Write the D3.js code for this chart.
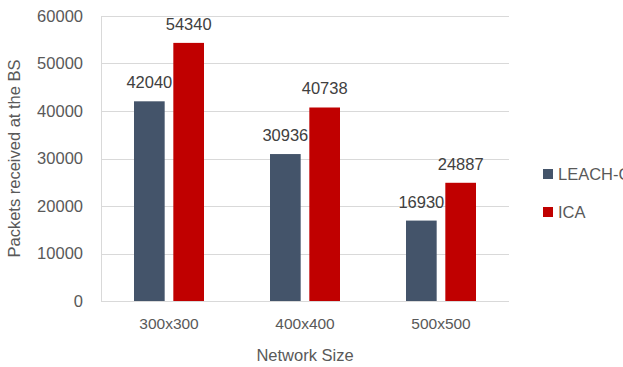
<!DOCTYPE html>
<html>
<head>
<meta charset="utf-8">
<script src="https://cdn.jsdelivr.net/npm/d3@7/dist/d3.min.js"></script>
<style>
  html, body { margin: 0; padding: 0; background: #fff; }
  svg { display: block; font-family: "Liberation Sans", Arial, sans-serif; }
  .tick text { fill: #595959; }
</style>
</head>
<body>
<div id="chart"></div>
<script>
const categories = ["300x300", "400x400", "500x500"];
const seriesNames = ["LEACH-C", "ICA"];
const leachValues = [42040, 30936, 16930];
const icaValues = [54340, 40738, 24887];
const yTicks = [0, 10000, 20000, 30000, 40000, 50000, 60000];
const colors = ["#44546A", "#C00000"];

const width = 623, height = 367;
const margin = { top: 16, right: 114, bottom: 66, left: 101 };

const svg = d3.select("#chart").append("svg")
  .attr("width", width)
  .attr("height", height);

const x = d3.scaleBand()
  .domain(categories)
  .range([margin.left, width - margin.right])
  .paddingInner(0)
  .paddingOuter(0);

const x1 = d3.scaleBand()
  .domain(seriesNames)
  .range([33, 103])
  .paddingInner(0.22);

const y = d3.scaleLinear()
  .domain([0, 60000])
  .range([height - margin.bottom, margin.top]);

// gridlines
svg.append("g")
  .selectAll("line")
  .data(yTicks)
  .join("line")
  .attr("x1", margin.left)
  .attr("x2", width - margin.right)
  .attr("y1", (d) => Math.round(y(d)) + 0.5)
  .attr("y2", (d) => Math.round(y(d)) + 0.5)
  .attr("stroke", "#d9d9d9")
  .attr("stroke-width", 1);

// left frame line
svg.append("line")
  .attr("x1", margin.left + 0.5)
  .attr("x2", margin.left + 0.5)
  .attr("y1", y(60000))
  .attr("y2", y(0))
  .attr("stroke", "#d9d9d9");

// y axis labels
const yAxis = svg.append("g")
  .attr("transform", `translate(${margin.left},0)`)
  .call(d3.axisLeft(y).tickValues(yTicks).tickSize(0).tickPadding(18).tickFormat(d3.format("d")));
yAxis.select(".domain").remove();
yAxis.selectAll("text").attr("font-size", 16.5).attr("fill", "#595959");

// x axis labels
const xAxis = svg.append("g")
  .attr("transform", `translate(0,${height - margin.bottom})`)
  .call(d3.axisBottom(x).tickSize(0).tickPadding(17));
xAxis.select(".domain").remove();
xAxis.selectAll("text").attr("font-size", 15.5).attr("fill", "#595959");

const rows = categories.map((c, i) => ({
  category: c,
  values: [
    { name: seriesNames[0], value: leachValues[i] },
    { name: seriesNames[1], value: icaValues[i] },
  ],
}));

const groups = svg.append("g")
  .selectAll("g")
  .data(rows)
  .join("g")
  .attr("transform", (d) => `translate(${x(d.category)},0)`);

groups.selectAll("rect")
  .data((d) => d.values)
  .join("rect")
  .attr("x", (d) => x1(d.name))
  .attr("width", x1.bandwidth())
  .attr("y", (d) => y(d.value))
  .attr("height", (d) => y(0) - y(d.value))
  .attr("fill", (d, i) => colors[i]);

groups.selectAll("text")
  .data((d) => d.values)
  .join("text")
  .attr("x", (d) => x1(d.name) + x1.bandwidth() / 2)
  .attr("y", (d) => y(d.value) - 13)
  .attr("text-anchor", "middle")
  .attr("font-size", 16.5)
  .attr("fill", "#404040")
  .text((d) => d.value);

// axis titles
svg.append("text")
  .attr("x", (margin.left + width - margin.right) / 2)
  .attr("y", 361)
  .attr("text-anchor", "middle")
  .attr("font-size", 16.5)
  .attr("fill", "#595959")
  .text("Network Size");

svg.append("text")
  .attr("transform", `translate(20,${(y(0) + y(60000)) / 2}) rotate(-90)`)
  .attr("text-anchor", "middle")
  .attr("font-size", 16.5)
  .attr("fill", "#595959")
  .text("Packets received at the BS");

// legend
const legend = svg.append("g")
  .selectAll("g")
  .data(seriesNames)
  .join("g")
  .attr("transform", (d, i) => `translate(543,${169 + i * 38})`);

legend.append("rect")
  .attr("width", 10)
  .attr("height", 10)
  .attr("fill", (d, i) => colors[i]);

legend.append("text")
  .attr("x", 15)
  .attr("y", 11)
  .attr("font-size", 16.5)
  .attr("fill", "#595959")
  .text((d) => d);
</script>
</body>
</html>
